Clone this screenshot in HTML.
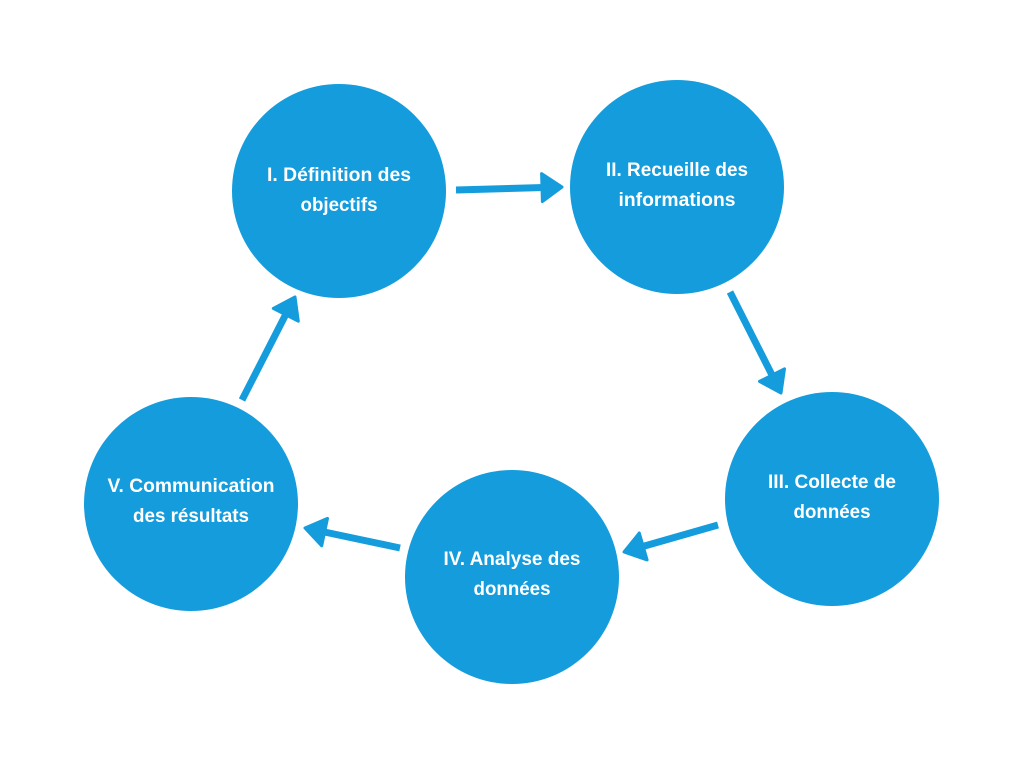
<!DOCTYPE html>
<html><head><meta charset="utf-8"><style>
html,body{margin:0;padding:0;background:#fff;}
svg{display:block}
text{font-family:"Liberation Sans",sans-serif;font-weight:bold;font-size:19px;fill:#fff;text-anchor:middle}
</style></head><body>
<svg width="1024" height="768" viewBox="0 0 1024 768">
<g fill="#149cdc">
<circle cx="339" cy="191" r="107"/>
<circle cx="677" cy="187" r="107"/>
<circle cx="832" cy="499" r="107"/>
<circle cx="512" cy="577" r="107"/>
<circle cx="191" cy="504" r="107"/>
</g>
<g stroke="#149cdc" stroke-width="7" fill="none">
<line x1="456" y1="190" x2="544" y2="187.5"/>
<line x1="730" y1="292" x2="773" y2="377"/>
<line x1="718" y1="525" x2="641" y2="547"/>
<line x1="400" y1="548" x2="322" y2="531.5"/>
<line x1="242" y1="400" x2="287" y2="312"/>
</g>
<g fill="#149cdc" stroke="#149cdc" stroke-width="3" stroke-linejoin="round">
<path d="M562,187 L542.4,201.6 L541.6,173.6 Z"/>
<path d="M781,393 L759.5,381.4 L784.5,368.8 Z"/>
<path d="M624,552 L639.3,533 L647.1,559.9 Z"/>
<path d="M305,528 L327.5,518.4 L321.7,545.8 Z"/>
<path d="M295,297 L298.3,321.2 L273.3,308.4 Z"/>
</g>
<g>
<text x="339" y="181" textLength="144" lengthAdjust="spacingAndGlyphs">I. Définition des</text>
<text x="339" y="211" textLength="77" lengthAdjust="spacingAndGlyphs">objectifs</text>
<text x="677" y="176" textLength="142" lengthAdjust="spacingAndGlyphs">II. Recueille des</text>
<text x="677" y="206" textLength="117" lengthAdjust="spacingAndGlyphs">informations</text>
<text x="832" y="488" textLength="128" lengthAdjust="spacingAndGlyphs">III. Collecte de</text>
<text x="832" y="518" textLength="77" lengthAdjust="spacingAndGlyphs">données</text>
<text x="512" y="565" textLength="137" lengthAdjust="spacingAndGlyphs">IV. Analyse des</text>
<text x="512" y="595" textLength="77" lengthAdjust="spacingAndGlyphs">données</text>
<text x="191" y="492" textLength="167" lengthAdjust="spacingAndGlyphs">V. Communication</text>
<text x="191" y="522" textLength="116" lengthAdjust="spacingAndGlyphs">des résultats</text>
</g>
</svg>
</body></html>
